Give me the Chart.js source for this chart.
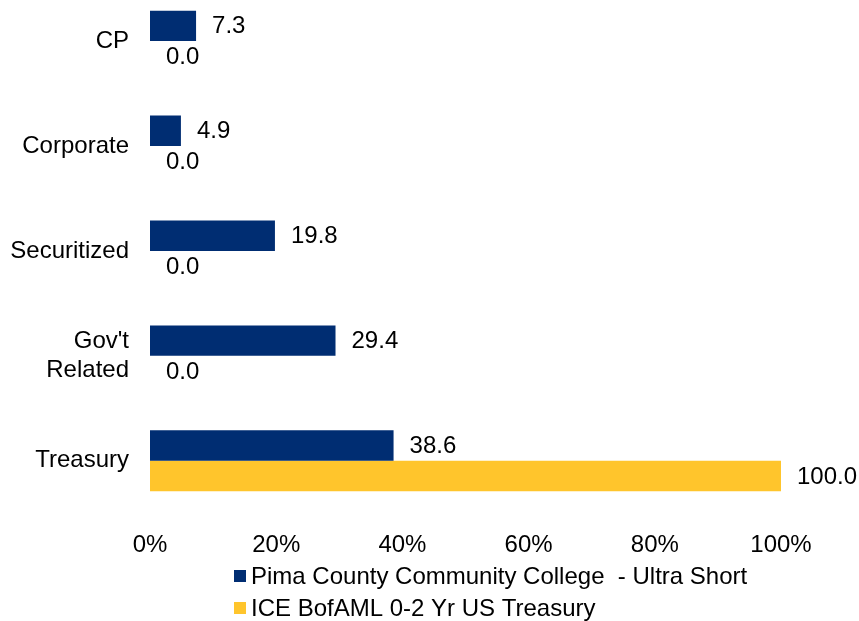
<!DOCTYPE html>
<html>
<head>
<meta charset="utf-8">
<script src="https://cdn.jsdelivr.net/npm/chart.js@4/dist/chart.umd.min.js"></script>
<style>
  html, body { margin: 0; padding: 0; background: #fff; }
  /* the canvas is a bit taller than the page and shifted up so the
     first bar group can sit close to the top edge */
  #wrap { position: relative; width: 859px; height: 621px; overflow: hidden; }
  #myChart { position: absolute; left: 0; top: -20px; }
</style>
</head>
<body>
<div id="wrap"><canvas id="myChart" width="859" height="660"></canvas></div>
<script>
// Sector allocation (% of portfolio)
const categories = ['CP', 'Corporate', 'Securitized', ["Gov't", 'Related'], 'Treasury'];
const pimaValues = [7.3, 4.9, 19.8, 29.4, 38.6];
const iceValues = [0.0, 0.0, 0.0, 0.0, 100.0];
const seriesNames = ['Pima County Community College  - Ultra Short', 'ICE BofAML 0-2 Yr US Treasury'];
const xTicks = [0, 20, 40, 60, 80, 100];

const navy = '#002D72';
const gold = '#FFC52C';
const font = 'Liberation Sans, Arial, sans-serif';
const fontSize = 24;

Chart.defaults.font.family = font;
Chart.defaults.font.size = fontSize;
Chart.defaults.color = '#000';

// value text to the right of every bar
const barLabels = {
    id: 'barLabels',
    afterDatasetsDraw(chart) {
        const ctx = chart.ctx;
        ctx.save();
        ctx.font = fontSize + 'px ' + font;
        ctx.fillStyle = '#000';
        ctx.textAlign = 'left';
        ctx.textBaseline = 'middle';
        chart.data.datasets.forEach((ds, i) => {
            chart.getDatasetMeta(i).data.forEach((bar, j) => {
                ctx.fillText(ds.data[j].toFixed(1), bar.x + 16, bar.y + 1);
            });
        });
        ctx.restore();
    }
};

// legend stacked under the axis, left aligned
const stackedLegend = {
    id: 'stackedLegend',
    afterDraw(chart) {
        const ctx = chart.ctx;
        ctx.save();
        ctx.font = fontSize + 'px ' + font;
        ctx.textBaseline = 'middle';
        chart.data.datasets.forEach((ds, i) => {
            const y = 596 + i * 32;
            ctx.fillStyle = ds.backgroundColor;
            ctx.fillRect(234, y - 6, 12, 12);
            ctx.fillStyle = '#000';
            ctx.fillText(ds.label, 251, y + 1);
        });
        ctx.restore();
    }
};

const ctx = document.getElementById('myChart').getContext('2d');
const myChart = new Chart(ctx, {
    type: 'bar',
    data: {
        labels: categories,
        datasets: [
            { label: seriesNames[0], data: pimaValues, backgroundColor: navy },
            { label: seriesNames[1], data: iceValues, backgroundColor: gold }
        ]
    },
    options: {
        indexAxis: 'y',
        responsive: false,
        animation: false,
        layout: { padding: { top: 8.6, right: 78, bottom: 62, left: 0 } },
        datasets: { bar: { categoryPercentage: 0.58, barPercentage: 1.0 } },
        plugins: {
            legend: { display: false },
            tooltip: { enabled: false }
        },
        scales: {
            x: {
                min: 0,
                max: 100,
                afterBuildTicks(scale) {
                    scale.ticks = xTicks.map(v => ({ value: v }));
                },
                grid: { display: false, drawTicks: false },
                border: { display: false },
                ticks: {
                    padding: 18,
                    callback: v => v + '%'
                }
            },
            y: {
                grid: { display: false, drawTicks: false },
                border: { display: false },
                afterFit(scale) {
                    scale.width = 150;
                    scale.paddingTop = 0;
                    scale.paddingBottom = 0;
                },
                ticks: { padding: 21, font: { lineHeight: 1.18 } }
            }
        }
    },
    plugins: [barLabels, stackedLegend]
});
</script>
</body>
</html>
